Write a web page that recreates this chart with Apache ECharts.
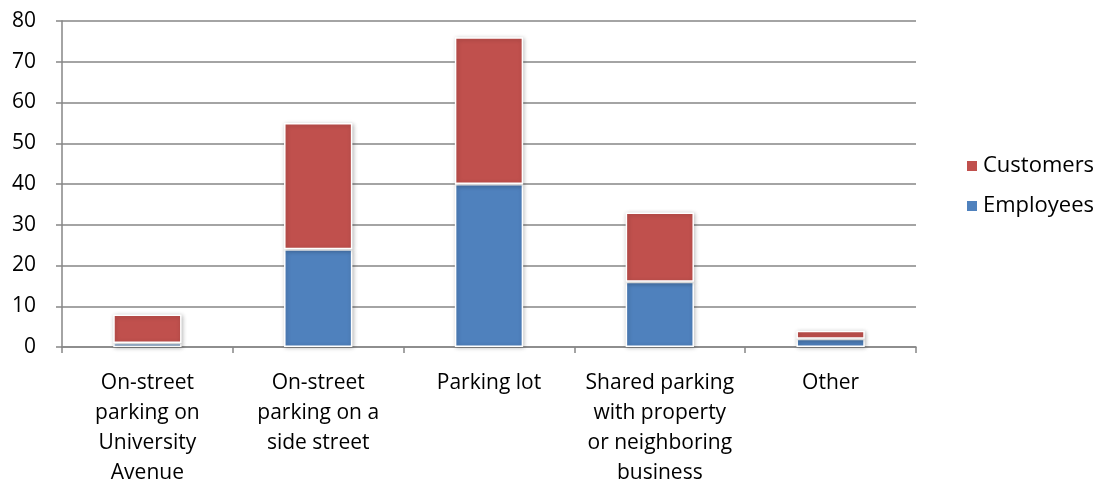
<!DOCTYPE html>
<html>
<head>
<meta charset="utf-8">
<script src="https://cdn.jsdelivr.net/npm/echarts@6/dist/echarts.min.js"></script>
<style>
html,body{margin:0;padding:0;background:#fff;}
#chart{width:1104px;height:488px;}
</style>
</head>
<body>
<div id="chart"></div>
<script>
const categories = [
  "On-street\nparking on\nUniversity\nAvenue",
  "On-street\nparking on a\nside street",
  "Parking lot",
  "Shared parking\nwith property\nor neighboring\nbusiness",
  "Other"
];
const employees = [1, 24, 40, 16, 2];
const customers = [7, 31, 36, 17, 2];
const yTicks = [0, 10, 20, 30, 40, 50, 60, 70, 80];

const font = '"Open Sans", Lato, sans-serif';
const axisGray = '#868686';
const barStyle = (c) => ({
  color: c,
  borderColor: '#ffffff',
  borderWidth: 1.5,
  shadowBlur: 4,
  shadowColor: 'rgba(0,0,0,0.25)',
  shadowOffsetX: 1,
  shadowOffsetY: 1
});

const chart = echarts.init(document.getElementById('chart'), null, {renderer: 'canvas'});
chart.setOption({
  animation: false,
  backgroundColor: '#ffffff',
  grid: {left: 62, right: 188, top: 21, bottom: 141, containLabel: false},
  legend: {
    orient: 'vertical',
    left: 960,
    top: 150,
    itemWidth: 12,
    itemHeight: 12,
    itemGap: 18,
    icon: 'rect',
    textStyle: {fontFamily: font, fontSize: 22, color: '#000'},
    data: ['Customers', 'Employees']
  },
  xAxis: {
    type: 'category',
    data: categories,
    axisLine: {lineStyle: {color: axisGray, width: 1.5}},
    axisTick: {show: true, length: 6, lineStyle: {color: axisGray, width: 1.5}, alignWithLabel: false},
    axisLabel: {
      interval: 0,
      fontFamily: font,
      fontSize: 21,
      color: '#000',
      lineHeight: 30,
      margin: 21
    }
  },
  yAxis: {
    type: 'value',
    min: yTicks[0],
    max: yTicks[yTicks.length - 1],
    interval: 10,
    axisLine: {show: true, lineStyle: {color: axisGray, width: 1.5}},
    axisTick: {show: true, length: 6, lineStyle: {color: axisGray, width: 1.5}},
    splitLine: {lineStyle: {color: axisGray, width: 1.5}},
    axisLabel: {fontFamily: font, fontSize: 21, color: '#000', margin: 26}
  },
  series: [
    {
      name: 'Employees',
      type: 'bar',
      stack: 'total',
      barWidth: '40%',
      data: employees,
      itemStyle: barStyle('#4F81BD')
    },
    {
      name: 'Customers',
      type: 'bar',
      stack: 'total',
      barWidth: '40%',
      data: customers,
      itemStyle: barStyle('#C0504D')
    }
  ]
});
</script>
</body>
</html>
